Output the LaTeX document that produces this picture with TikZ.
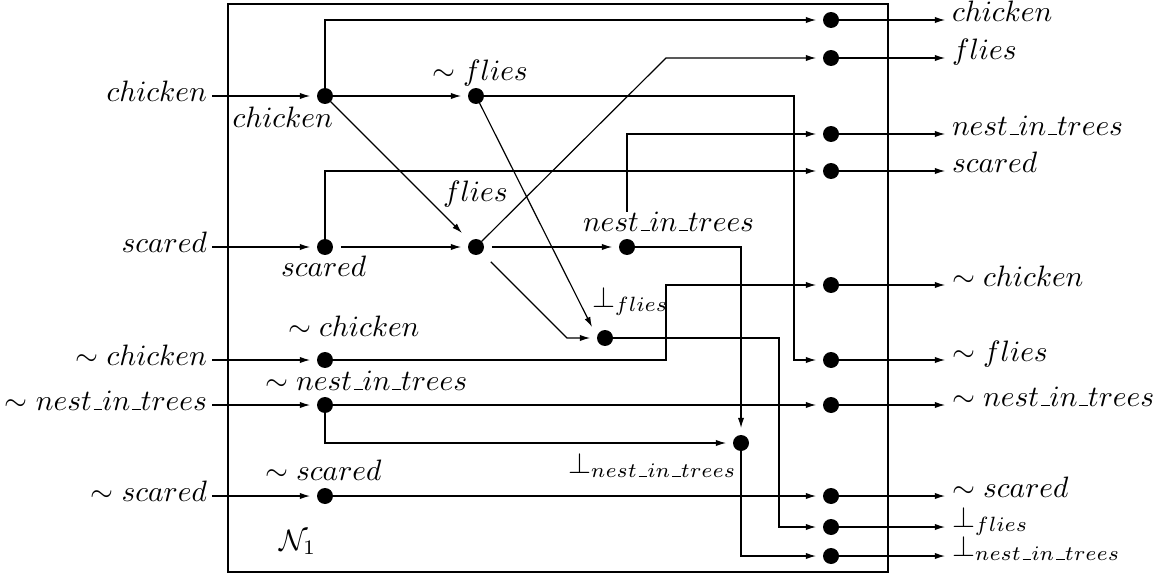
\documentclass[tikz,border=0pt]{standalone}
\usetikzlibrary{arrows.meta,calc}
\newcommand{\usc}{\mbox{\kern.06em\vbox{\hrule width .3em}}}
\tikzset{
  dot/.style={circle,fill=black,inner sep=0pt,outer sep=0pt,minimum size=5.42pt},
  arr/.style={-{Latex[length=3.4pt,width=2.1pt]},shorten >=2.37pt},
  lbl/.style={inner sep=0pt,outer sep=0pt},
}
\begin{document}
\begin{tikzpicture}[x=0.339pt,y=-0.339pt,line width=0.4pt]
\useasboundingbox (0,0) rectangle (1171,579);
% frame
\draw (228,4) rectangle (888,572);
% internal dots
\node[dot] (ci) at (325,96) {};
\node[dot] (nf) at (476,96) {};
\node[dot] (sc) at (325,247) {};
\node[dot] (fl) at (476,247) {};
\node[dot] (ne) at (627,247) {};
\node[dot] (bf) at (605,338) {};
\node[dot] (nc) at (325,360) {};
\node[dot] (nn) at (325,405) {};
\node[dot] (bn) at (741,443) {};
\node[dot] (ns) at (325,496) {};
% output dots
\node[dot] (oc)  at (831,20) {};
\node[dot] (of)  at (831,58) {};
\node[dot] (one) at (831,134) {};
\node[dot] (os)  at (831,171) {};
\node[dot] (onc) at (831,285) {};
\node[dot] (onf) at (831,360) {};
\node[dot] (onn) at (831,405) {};
\node[dot] (ons) at (831,496) {};
\node[dot] (obf) at (831,527) {};
\node[dot] (obn) at (831,556) {};
% input labels
\node[lbl,anchor=base east] (lic) at (207,101) {$chicken$};
\node[lbl,anchor=base east] (lis) at (207,252) {$scared$};
\node[lbl,anchor=base east] (linc) at (207,365) {$\sim chicken$};
\node[lbl,anchor=base east] (linn) at (207,410) {$\sim nest\usc in\usc trees$};
\node[lbl,anchor=base east] (lins) at (207,501) {$\sim scared$};
% output labels
\node[lbl,anchor=base west] (loc) at (952,21) {$chicken$};
\node[lbl,anchor=base west] (lof) at (952,59) {$flies$};
\node[lbl,anchor=base west] (lone) at (952,135) {$nest\usc in\usc trees$};
\node[lbl,anchor=base west] (los) at (952,172) {$scared$};
\node[lbl,anchor=base west] (lonc) at (952,286) {$\sim chicken$};
\node[lbl,anchor=base west] (lonf) at (952,361) {$\sim flies$};
\node[lbl,anchor=base west] (lonn) at (952,406) {$\sim nest\usc in\usc trees$};
\node[lbl,anchor=base west] (lons) at (952,497) {$\sim scared$};
\node[lbl,anchor=base west] (lobf) at (952,527) {$\bot_{flies}$};
\node[lbl,anchor=base west] (lobn) at (952,556) {$\bot_{nest\usc in\usc trees}$};
% internal labels
\node[lbl,anchor=base east] (tci) at (333,127) {$chicken$};
\node[lbl,anchor=base west] (tnf) at (432,80) {$\sim flies$};
\node[lbl,anchor=base west] (tfl) at (443,201) {$flies$};
\node[lbl,anchor=base west] (tsc) at (281,276) {$scared$};
\node[lbl,anchor=base west] (tne) at (583,231) {$nest\usc in\usc trees$};
\node[lbl,anchor=base west] (tbf) at (592,307) {$\bot_{flies}$};
\node[lbl,anchor=base west] (tnc) at (288,336) {$\sim chicken$};
\node[lbl,anchor=base west] (tnn) at (265,390) {$\sim nest\usc in\usc trees$};
\node[lbl,anchor=base west] (tbn) at (568,473) {$\bot_{nest\usc in\usc trees}$};
\node[lbl,anchor=base west] (tns) at (265,480) {$\sim scared$};
\node[lbl,anchor=base west] (tN) at (279,550) {$\mathcal{N}_1$};
% turning points
\coordinate (t1) at (794,360);
\coordinate (t2) at (666,58);
\coordinate (t3) at (567,338);
\coordinate (t4) at (779,527);
\coordinate (t5) at (666,285);
\coordinate (bft) at (592,327);
% input arrows
\draw[arr,shorten <=1.7pt] (lic.east |- ci) -- (ci);
\draw[arr,shorten <=1.7pt] (lis.east |- sc) -- (sc);
\draw[arr,shorten <=1.7pt] (linc.east |- nc) -- (nc);
\draw[arr,shorten <=1.7pt] (linn.east |- nn) -- (nn);
\draw[arr,shorten <=1.7pt] (lins.east |- ns) -- (ns);
% internal connectors
\draw[arr] (ci) |- (oc);
\draw[arr] (ci) -- (nf);
\draw[arr,shorten >=4.07pt] (ci) -- (fl);
\draw[arr,shorten >=0pt] (nf) -- (bft);
\draw[arr] (nf) -| (t1) -- (onf);
\draw[arr,shorten <=2.71pt] (sc) -- (fl);
\draw[arr] (sc) |- (os);
\draw[arr] (fl) -- (t2) -- (of);
\draw[arr,shorten <=2.71pt] (fl) -- (ne);
\draw[arr,shorten <=4.4pt] (fl) -- (t3) -- (bf);
\draw[arr] (ne |- tne.north) |- (one);
\draw[arr] (ne) -| (bn);
\draw[arr] (bf) -| (t4) -- (obf);
\draw[arr] (nc) -| (t5) -- (onc);
\draw[arr] (nn) -- (onn);
\draw[arr] (nn) |- (bn);
\draw[arr] (ns) -- (ons);
\draw[arr] (bn) |- (obn);
% output arrows
\draw[arr] (oc) -- (loc.west |- oc);
\draw[arr] (of) -- (lof.west |- of);
\draw[arr] (one) -- (lone.west |- one);
\draw[arr] (os) -- (los.west |- os);
\draw[arr] (onc) -- (lonc.west |- onc);
\draw[arr] (onf) -- (lonf.west |- onf);
\draw[arr] (onn) -- (lonn.west |- onn);
\draw[arr] (ons) -- (lons.west |- ons);
\draw[arr] (obf) -- (lobf.west |- obf);
\draw[arr] (obn) -- (lobn.west |- obn);
\end{tikzpicture}
\end{document}
